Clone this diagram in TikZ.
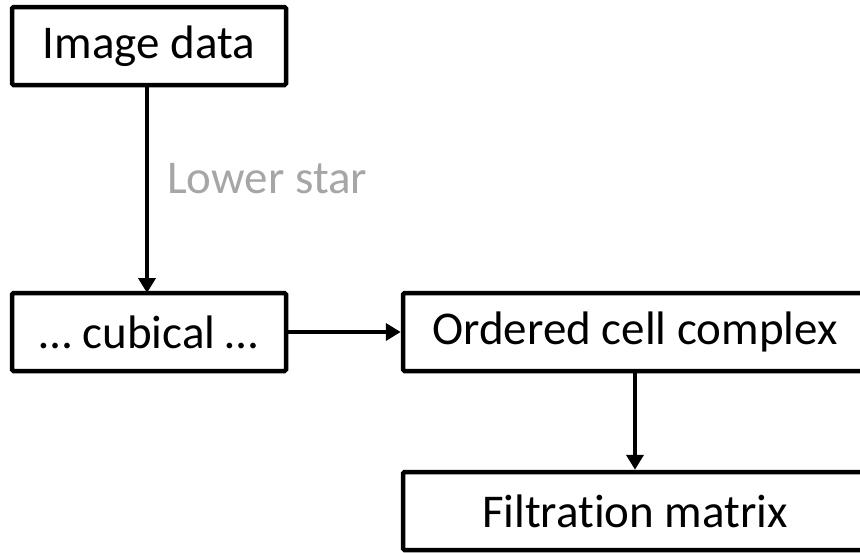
\documentclass[tikz,border=0pt]{standalone}
\usepackage{fontspec}
\setmainfont{Carlito}[Ligatures=CommonOff]
\usetikzlibrary{arrows.meta}
\definecolor{labelgray}{HTML}{A6A6A6}
\begin{document}
\begin{tikzpicture}[x=1pt,y=-1pt,
  box/.style={draw=black,line width=4.5pt,rounded corners=1.5pt,fill=white,
    inner sep=0pt,minimum height=78pt,font=\fontsize{47}{52}\selectfont},
  link/.style={line width=4pt,-{Triangle[length=15pt,width=17pt]}},
  note/.style={text=labelgray,font=\fontsize{47}{52}\selectfont,inner sep=0pt}]
  \useasboundingbox (0,0) rectangle (860,552);
  \clip (0,0) rectangle (860,552);
  \node[box,minimum width=274pt] (img) at (149,46) {Image data};
  \node[box,minimum width=274pt] (cub) at (149,332) {… cubical …};
  \node[box,minimum width=464pt] (occ) at (635,332) {Ordered cell complex};
  \node[box,minimum width=464pt] (fil) at (635,511) {Filtration matrix};
  \coordinate (imgout) at (147,85);
  \coordinate (cubin) at (147,293);
  \draw[link] (imgout) -- (cubin);
  \draw[link] (cub.east) -- (occ.west);
  \draw[link] (occ.south) -- (fil.north);
  \node[note,anchor=base west] (ls) at (167,193) {Lower star};
\end{tikzpicture}
\end{document}
